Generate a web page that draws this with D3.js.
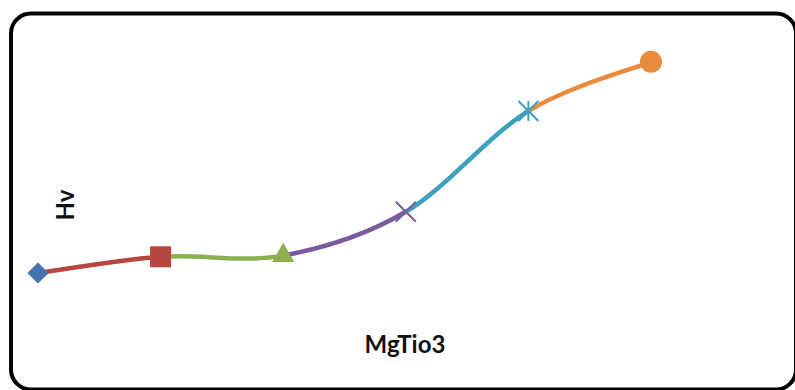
<!DOCTYPE html>
<html>
<head>
<meta charset="utf-8">
<script src="https://cdn.jsdelivr.net/npm/d3@7"></script>
<style>
  html, body { margin: 0; padding: 0; background: #ffffff; }
  svg { display: block; }
  text { font-family: Lato, "Open Sans", "Liberation Sans", sans-serif; font-weight: bold; fill: #111; }
</style>
</head>
<body>
<script>
// Sample sequence and measured Hv values
const categories = ["1", "2", "3", "4", "5", "6"];
const hvValues = [1.0, 1.27, 1.29, 2.02, 3.7, 4.52];
const pointColors = ["#4473B0", "#B8463F", "#8DB04E", "#7A5C9E", "#3CA1BC", "#EA8A3D"];
const markerTypes = ["diamond", "square", "triangle", "x", "star", "circle"];
const xTitle = "MgTio3";
const yTitle = "Hv";

const W = 795, H = 390;
const svg = d3.select("body").append("svg").attr("width", W).attr("height", H);

// Rounded chart frame
svg.append("rect")
  .attr("x", 11).attr("y", 13.5)
  .attr("width", 785).attr("height", 376)
  .attr("rx", 20).attr("ry", 20)
  .attr("fill", "#fff").attr("stroke", "#000").attr("stroke-width", 4);

const x = d3.scalePoint().domain(categories).range([38, 651]);
const y = d3.scaleLinear().domain([0, 5]).range([333, 33]);

const pts = categories.map((c, i) => ({ c, v: hvValues[i], px: x(c), py: y(hvValues[i]), i }));

// Smoothed segments (Catmull-Rom style), each coloured like its end point
const g = svg.append("g");
for (let i = 0; i < pts.length - 1; i++) {
  const p0 = pts[Math.max(i - 1, 0)], p1 = pts[i], p2 = pts[i + 1], p3 = pts[Math.min(i + 2, pts.length - 1)];
  const c1x = p1.px + (p2.px - p0.px) / 6, c1y = p1.py + (p2.py - p0.py) / 6;
  const c2x = p2.px - (p3.px - p1.px) / 6, c2y = p2.py - (p3.py - p1.py) / 6;
  const path = d3.path();
  path.moveTo(p1.px, p1.py);
  path.bezierCurveTo(c1x, c1y, c2x, c2y, p2.px, p2.py);
  g.append("path")
    .attr("d", path.toString())
    .attr("fill", "none")
    .attr("stroke", pointColors[i + 1])
    .attr("stroke-width", 4.5)
    .attr("stroke-linecap", "round");
}

// Markers
const mk = svg.append("g");
pts.forEach(p => {
  const col = pointColors[p.i];
  const t = markerTypes[p.i];
  const grp = mk.append("g").attr("transform", `translate(${p.px},${p.py})`);
  if (t === "diamond") {
    grp.append("path").attr("d", d3.symbol(d3.symbolSquare, 225)()).attr("transform", "rotate(45)").attr("fill", col);
  } else if (t === "square") {
    grp.append("path").attr("d", d3.symbol(d3.symbolSquare, 441)()).attr("fill", col);
  } else if (t === "triangle") {
    grp.append("path").attr("d", d3.symbol(d3.symbolTriangle, 215)()).attr("fill", col);
  } else if (t === "circle") {
    grp.append("path").attr("d", d3.symbol(d3.symbolCircle, Math.PI * 11 * 11)()).attr("fill", col);
  } else {
    const r = 10;
    const p = d3.path();
    p.moveTo(-r, -r); p.lineTo(r, r);
    p.moveTo(-r, r); p.lineTo(r, -r);
    if (t === "star") { p.moveTo(0, -r); p.lineTo(0, r); }
    grp.append("path").attr("d", p.toString()).attr("fill", "none").attr("stroke", col).attr("stroke-width", 2);
  }
});

// Axis titles
svg.append("text")
  .attr("x", 405).attr("y", 353)
  .attr("text-anchor", "middle")
  .attr("font-size", 24)
  .text(xTitle);

svg.append("text")
  .attr("transform", "translate(74,205) rotate(-90)")
  .attr("text-anchor", "middle")
  .attr("font-size", 24)
  .text(yTitle);
</script>
</body>
</html>
